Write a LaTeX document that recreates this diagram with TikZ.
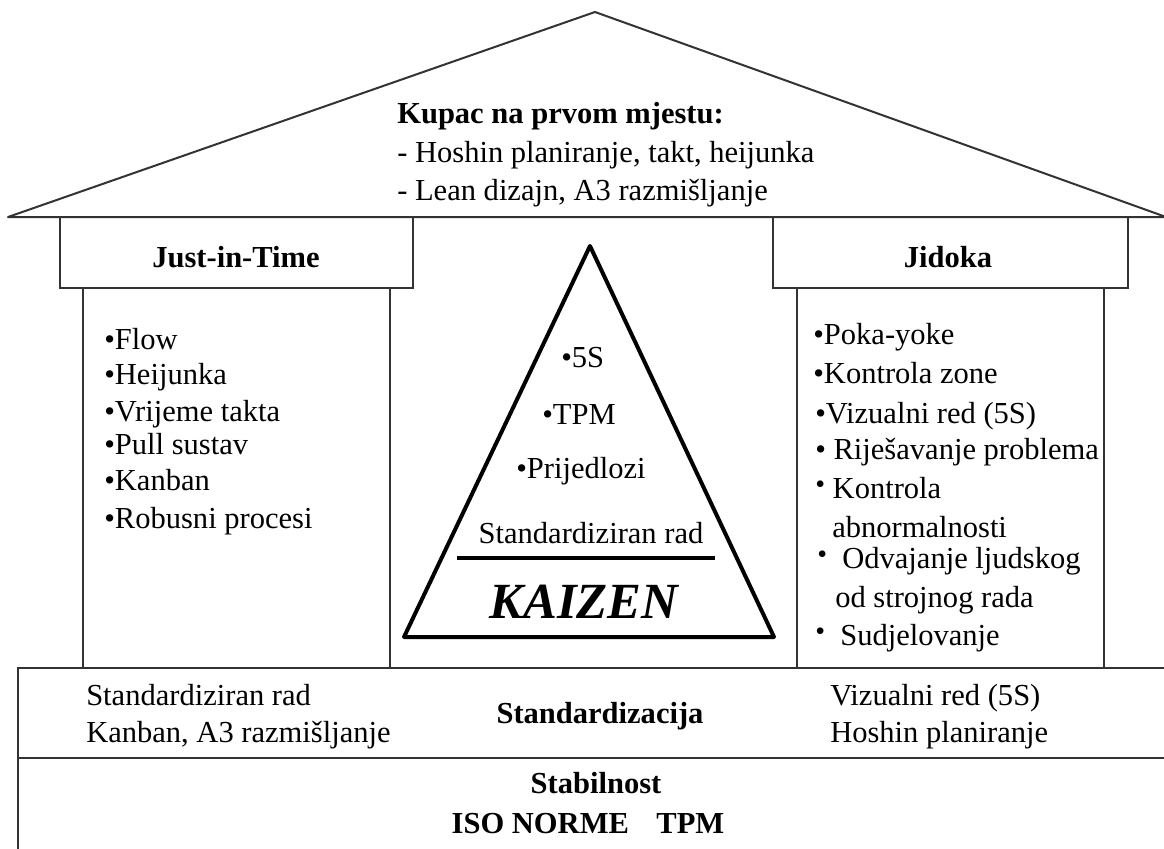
\documentclass[tikz,border=0pt]{standalone}
\usepackage{fontspec}
\setmainfont{Liberation Serif}
\newcommand{\upbul}{\raisebox{0.3ex}{\fontsize{21}{21}\selectfont•}}
\tikzset{
  houseline/.style={draw=black!80, line width=1.5pt},
  txt/.style={inner sep=0pt, font=\fontsize{22.9}{27}\selectfont},
  lefttxt/.style={txt, anchor=base west},
  midtxt/.style={txt, anchor=base},
  boldtxt/.style={midtxt, font=\fontsize{22.9}{27}\selectfont\bfseries}
}

\begin{document}
\begin{tikzpicture}[x=0.75pt, y=-0.75pt]
    \useasboundingbox (0,0) rectangle (1164,849);
    % roof
    \coordinate (apex) at (595,12);
    \coordinate (eaveL) at (8,217);
    \coordinate (eaveR) at (1166,217);
    \draw[houseline, line join=round] (eaveL) -- (apex) -- (eaveR) -- cycle;
    \node[lefttxt, font=\fontsize{22.9}{27}\selectfont\bfseries] (roofT) at (397,123) {Kupac na prvom mjestu:};
    \node[lefttxt] (roofA) at (397,162) {- Hoshin planiranje, takt, heijunka};
    \node[lefttxt] (roofB) at (397,200) {- Lean dizajn, A3 razmišljanje};

    % pillars: header box and body box
    \draw[houseline] (60,217) rectangle (413,288);
    \draw[houseline] (83,288) rectangle (390,668);
    \draw[houseline] (773,217) rectangle (1128,288);
    \draw[houseline] (797,288) rectangle (1104,668);
    \node[boldtxt] (jitHead) at (236,267) {Just-in-Time};
    \node[boldtxt] (jidHead) at (948,267) {Jidoka};

    % Just-in-Time list
    \foreach \n/\y/\t in {1/349/Flow, 2/384/Heijunka, 3/421/Vrijeme takta,
                          4/454/Pull sustav, 5/490/Kanban, 6/528/Robusni procesi}
        \node[lefttxt] (jit\n) at (104,\y) {•\t};

    % Jidoka list
    \node[lefttxt] (jid1) at (813,344) {•Poka-yoke};
    \node[lefttxt] (jid2) at (813,383) {•Kontrola zone};
    \node[lefttxt] (jid3) at (815,423) {•Vizualni red (5S)};
    \node[lefttxt] (jid4) at (815,459) {• Riješavanje problema};
    \node[lefttxt] (jid5) at (815,498) {\upbul\ Kontrola};
    \node[lefttxt] (jid5b) at (832,537) {abnormalnosti};
    \node[lefttxt] (jid6) at (817,568) {\upbul\ \ Odvajanje ljudskog};
    \node[lefttxt] (jid6b) at (835,607) {od strojnog rada};
    \node[lefttxt] (jid7) at (815,645) {\upbul\ \ Sudjelovanje};

    % kaizen triangle
    \coordinate (kTop) at (590,246);
    \coordinate (kL) at (404,637);
    \coordinate (kR) at (774,637);
    \draw[line width=3pt, line join=round] (kTop) -- (kL) -- (kR) -- cycle;
    \coordinate (sepL) at (457,558);
    \coordinate (sepR) at (715,558);
    \draw[line width=3.5pt] (sepL) -- (sepR);
    \node[lefttxt] (k5s) at (561,367) {•5S};
    \node[lefttxt] (ktpm) at (542,424) {•TPM};
    \node[lefttxt] (kprij) at (516,478) {•Prijedlozi};
    \node[midtxt] (kstd) at (591,543) {Standardiziran rad};
    \node[midtxt, font=\fontsize{38}{42}\selectfont\bfseries\itshape] (kaizen) at (584,618) {KAIZEN};

    % foundation bands
    \draw[houseline] (1166,668) -- (18,668) -- (18,851);
    \draw[houseline] (18,758) -- (1166,758);
    \node[lefttxt] (stdA) at (86,705) {Standardiziran rad};
    \node[lefttxt] (stdB) at (86,742) {Kanban, A3 razmišljanje};
    \node[boldtxt] (stdT) at (600,723) {Standardizacija};
    \node[lefttxt] (stdC) at (830,705) {Vizualni red (5S)};
    \node[lefttxt] (stdD) at (830,742) {Hoshin planiranje};
    \node[boldtxt] (stabT) at (596,793) {Stabilnost};
    \node[boldtxt] (stabA) at (588,833) {ISO NORME\hspace{0.9em}TPM};
\end{tikzpicture}
\end{document}
